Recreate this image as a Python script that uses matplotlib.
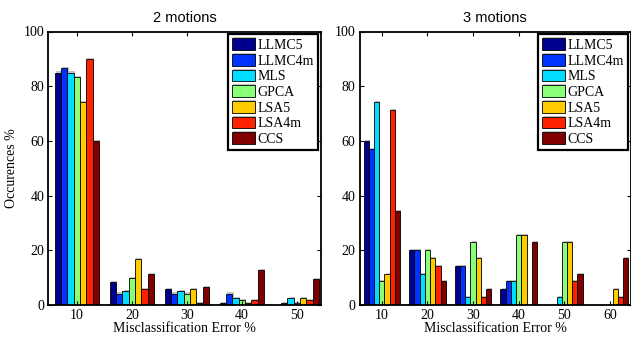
import numpy as np
import matplotlib
matplotlib.use("Agg")
import matplotlib.pyplot as plt
import matplotlib.patheffects as pe

# --- dados ---
metodos = ["LLMC5", "LLMC4m", "MLS", "GPCA", "LSA5", "LSA4m", "CCS"]
cores = ["#00008f", "#0033ff", "#00ddff", "#88ff77", "#ffcc00", "#ff2200", "#800000"]

erros_2 = [10, 20, 30, 40, 50]
occ_2 = {
    "LLMC5":  [85.0, 8.3, 5.8, 0.8, 0.0],
    "LLMC4m": [86.7, 4.2, 4.2, 4.2, 0.8],
    "MLS":    [85.0, 5.0, 5.0, 2.5, 2.5],
    "GPCA":   [83.3, 10.0, 4.2, 1.7, 0.8],
    "LSA5":   [74.2, 16.7, 5.8, 0.8, 2.5],
    "LSA4m":  [90.0, 5.8, 0.8, 1.7, 1.7],
    "CCS":    [60.0, 11.3, 6.7, 12.9, 9.6],
}

erros_3 = [10, 20, 30, 40, 50, 60]
occ_3 = {
    "LLMC5":  [60.0, 20.0, 14.3, 5.7, 0.0, 0.0],
    "LLMC4m": [57.1, 20.0, 14.3, 8.6, 0.0, 0.0],
    "MLS":    [74.3, 11.4, 2.9, 8.6, 2.9, 0.0],
    "GPCA":   [8.6, 20.0, 22.9, 25.7, 22.9, 0.0],
    "LSA5":   [11.4, 17.1, 17.1, 25.7, 22.9, 5.7],
    "LSA4m":  [71.4, 14.3, 2.9, 0.0, 8.6, 2.9],
    "CCS":    [34.3, 8.6, 5.7, 22.9, 11.4, 17.1],
}

plt.rcParams["font.family"] = "Liberation Serif"

W, H = 631, 337
fig = plt.figure(figsize=(W / 100, H / 100), dpi=100)
ax1 = fig.add_axes([48.5 / W, (H - 305) / H, (320.5 - 48.5) / W, (305 - 31.5) / H])
ax2 = fig.add_axes([359.5 / W, (H - 305) / H, (630.5 - 359.5) / W, (305 - 31.5) / H])

sombra = [pe.SimplePatchShadow(offset=(0.8, 0.8), shadow_rgbFace="#999999", alpha=0.6), pe.Normal()]


def grafico(ax, erros, occ, titulo, xlim, ylabel=False):
    n = len(metodos)
    largura = 8.0 / n
    x = np.array(erros, dtype=float)
    for i, m in enumerate(metodos):
        pos = x + (i - (n - 1) / 2) * largura
        bars = ax.bar(pos, occ[m], width=largura, color=cores[i],
                      edgecolor="black", linewidth=0.6, label=m)
        for b in bars:
            b.set_path_effects(sombra)
    ax.set_xlim(*xlim)
    ax.set_ylim(0, 100)
    ax.set_xticks(erros)
    ax.set_yticks([0, 20, 40, 60, 80, 100])
    ax.tick_params(direction="in", top=True, right=True, labelsize=10, length=3, width=0.8, pad=3)
    for s in ax.spines.values():
        s.set_linewidth(1.3)
    ax.set_title(titulo, family="Liberation Sans", fontsize=10.5, pad=7)
    ax.set_xlabel("Misclassification Error %", fontsize=10, labelpad=0)
    if ylabel:
        ax.set_ylabel("Occurences %", fontsize=10, labelpad=4)
    leg = ax.legend(loc="upper right", fontsize=10, fancybox=False, framealpha=1,
                    edgecolor="black", borderaxespad=0.2, handlelength=1.65,
                    handleheight=0.9, handletextpad=0.15, labelspacing=0.15,
                    borderpad=0.3, shadow=False)
    leg.get_frame().set_linewidth(1.6)


grafico(ax1, erros_2, occ_2, "2 motions", (4.85, 54.3), ylabel=True)
grafico(ax2, erros_3, occ_3, "3 motions", (5.1, 64.5))

fig.savefig("out.png", dpi=100)
